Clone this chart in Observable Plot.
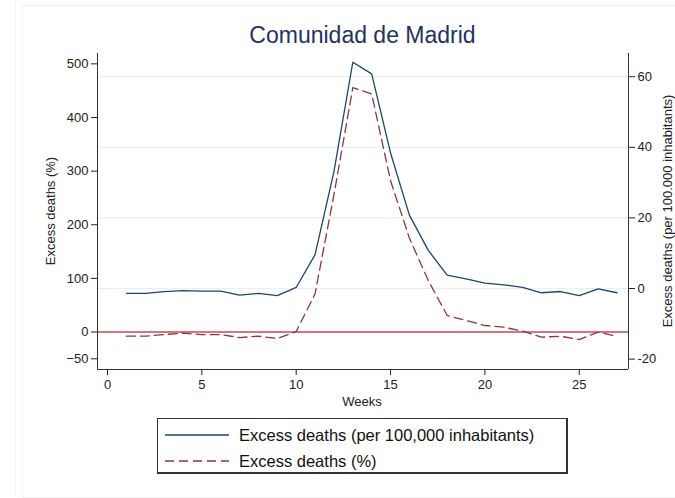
<!DOCTYPE html>
<html>
<head>
<meta charset="utf-8">
<script src="https://cdn.jsdelivr.net/npm/d3@7"></script>
<script src="https://cdn.jsdelivr.net/npm/@observablehq/plot@0.6"></script>
<style>
  html, body { margin: 0; padding: 0; background: #fff; }
  #wrap { position: relative; width: 675px; height: 498px; overflow: hidden; font-family: "Liberation Sans", Arial, Helvetica, sans-serif; color: #222; }
  #wrap svg { position: absolute; left: 0; top: 0; }
  .abs { position: absolute; white-space: nowrap; }
</style>
</head>
<body>
<div id="wrap">
  <div class="abs" style="left:22px;top:5px;width:700px;height:491px;border:1px solid #f1f1f1;"></div>
  <div class="abs" style="left:15px;top:0px;width:0;height:496px;border-left:1px solid #f4f4f4;"></div>
  <div id="chart"></div>
  <div class="abs" id="title" style="left:0;width:725px;top:22px;text-align:center;font-size:23px;line-height:26px;color:#1e3363;">Comunidad de Madrid</div>
  <div class="abs" id="ylabL" style="left:50px;top:211px;font-size:13px;transform:translate(-50%,-50%) rotate(-90deg);">Excess deaths (%)</div>
  <div class="abs" id="ylabR" style="left:667px;top:211px;font-size:13px;transform:translate(-50%,-50%) rotate(-90deg);">Excess deaths (per 100.000 inhabitants)</div>
  <div class="abs" id="xlab" style="left:362px;top:401px;font-size:13px;transform:translate(-50%,-50%);">Weeks</div>
  <div class="abs" id="legend" style="left:157px;top:418px;width:408px;height:53px;border:1px solid #333;border-right-width:2px;border-bottom-width:2px;"></div>
</div>
<script>
// ---- Data ----
const weeks = [1,2,3,4,5,6,7,8,9,10,11,12,13,14,15,16,17,18,19,20,21,22,23,24,25,26,27];
// Excess deaths per 100,000 inhabitants (right axis)
const per100k = [-1.4,-1.4,-0.9,-0.6,-0.75,-0.75,-1.9,-1.4,-2.0,0.3,9.6,33.1,64.1,60.8,38.4,20.8,10.8,3.8,2.7,1.5,1.05,0.3,-1.2,-0.85,-2.0,-0.1,-1.2];
// Excess deaths (%) (left axis)
const pct = [-7.8,-7.8,-4.7,-2.2,-4.7,-4.7,-10.3,-7.8,-12.1,0.9,71.4,256,455.7,444,282,175,96,30.8,21.5,12.1,9,1.6,-9.6,-7.8,-14,-0.3,-7.8];
const leftTicks = [-50,0,100,200,300,400,500];
const rightTicks = [-20,0,20,40,60];
const gridTicks = [0,20,40,60];
const xTicks = [0,5,10,15,20,25];
const seriesNames = ["Excess deaths (per 100,000 inhabitants)", "Excess deaths (%)"];

// right-axis units -> left-axis units
const A = 81.1, B = 6.582;
const toLeft = r => A + B * r;
const toRight = l => (l - A) / B;

const xDomain = [-0.53, 27.61];
const yDomain = [-69.9, 519.3];

const blue = "#1a476f", maroon = "#90353b", zeroRed = "#cc4654";

const rows = weeks.map((w, i) => ({week: w, r: per100k[i], p: pct[i]}));

const chart = Plot.plot({
  width: 675,
  height: 410,
  marginLeft: 97,
  marginRight: 47,
  marginTop: 53,
  marginBottom: 41,
  style: {fontSize: "13px", fontFamily: "'Liberation Sans', Arial, Helvetica, sans-serif", color: "#222", background: "transparent", overflow: "visible"},
  x: {domain: xDomain},
  y: {domain: yDomain},
  marks: [
    Plot.ruleY(gridTicks.map(toLeft), {stroke: "#e9f0f1", strokeWidth: 1.2}),
    Plot.ruleY([0], {stroke: zeroRed, strokeWidth: 1.5}),
    Plot.line(rows, {x: "week", y: d => toLeft(d.r), stroke: blue, strokeWidth: 1.3}),
    Plot.line(rows, {x: "week", y: "p", stroke: maroon, strokeWidth: 1.3, strokeDasharray: "9,5"}),
    Plot.axisY(leftTicks, {anchor: "left", tickSize: 6, tickPadding: 3, label: null}),
    Plot.axisY(rightTicks.map(toLeft), {anchor: "right", tickSize: 6, tickPadding: 3, label: null, tickFormat: d => String(Math.round(toRight(d)))}),
    Plot.axisX(xTicks, {anchor: "bottom", tickSize: 6, tickPadding: 4, label: null}),
    Plot.ruleX([xDomain[0]], {stroke: "#333", strokeWidth: 1}),
    Plot.ruleX([xDomain[1]], {stroke: "#333", strokeWidth: 1}),
    Plot.ruleY([yDomain[0]], {stroke: "#333", strokeWidth: 1})
  ]
});
document.getElementById("chart").appendChild(chart);

// Legend
const lg = document.getElementById("legend");
const items = [
  {name: seriesNames[0], color: blue, dash: null},
  {name: seriesNames[1], color: maroon, dash: "9,5"}
];
items.forEach((it, i) => {
  const cy = 16 + i * 26;
  const row = document.createElement("div");
  row.className = "abs";
  row.style.left = "0px"; row.style.top = (cy - 10) + "px"; row.style.height = "20px";
  const svg = d3.create("svg").attr("width", 80).attr("height", 20).style("position", "absolute").style("left", "7px").style("top", "0px");
  svg.append("line").attr("x1", 0).attr("x2", 64).attr("y1", 10).attr("y2", 10)
    .attr("stroke", it.color).attr("stroke-width", 1.3).attr("stroke-dasharray", it.dash);
  row.appendChild(svg.node());
  const t = document.createElement("span");
  t.className = "abs";
  t.style.left = "81px"; t.style.top = "0px"; t.style.fontSize = "16.5px"; t.style.lineHeight = "20px"; t.style.color = "#111";
  t.textContent = it.name;
  row.appendChild(t);
  lg.appendChild(row);
});
</script>
</body>
</html>
